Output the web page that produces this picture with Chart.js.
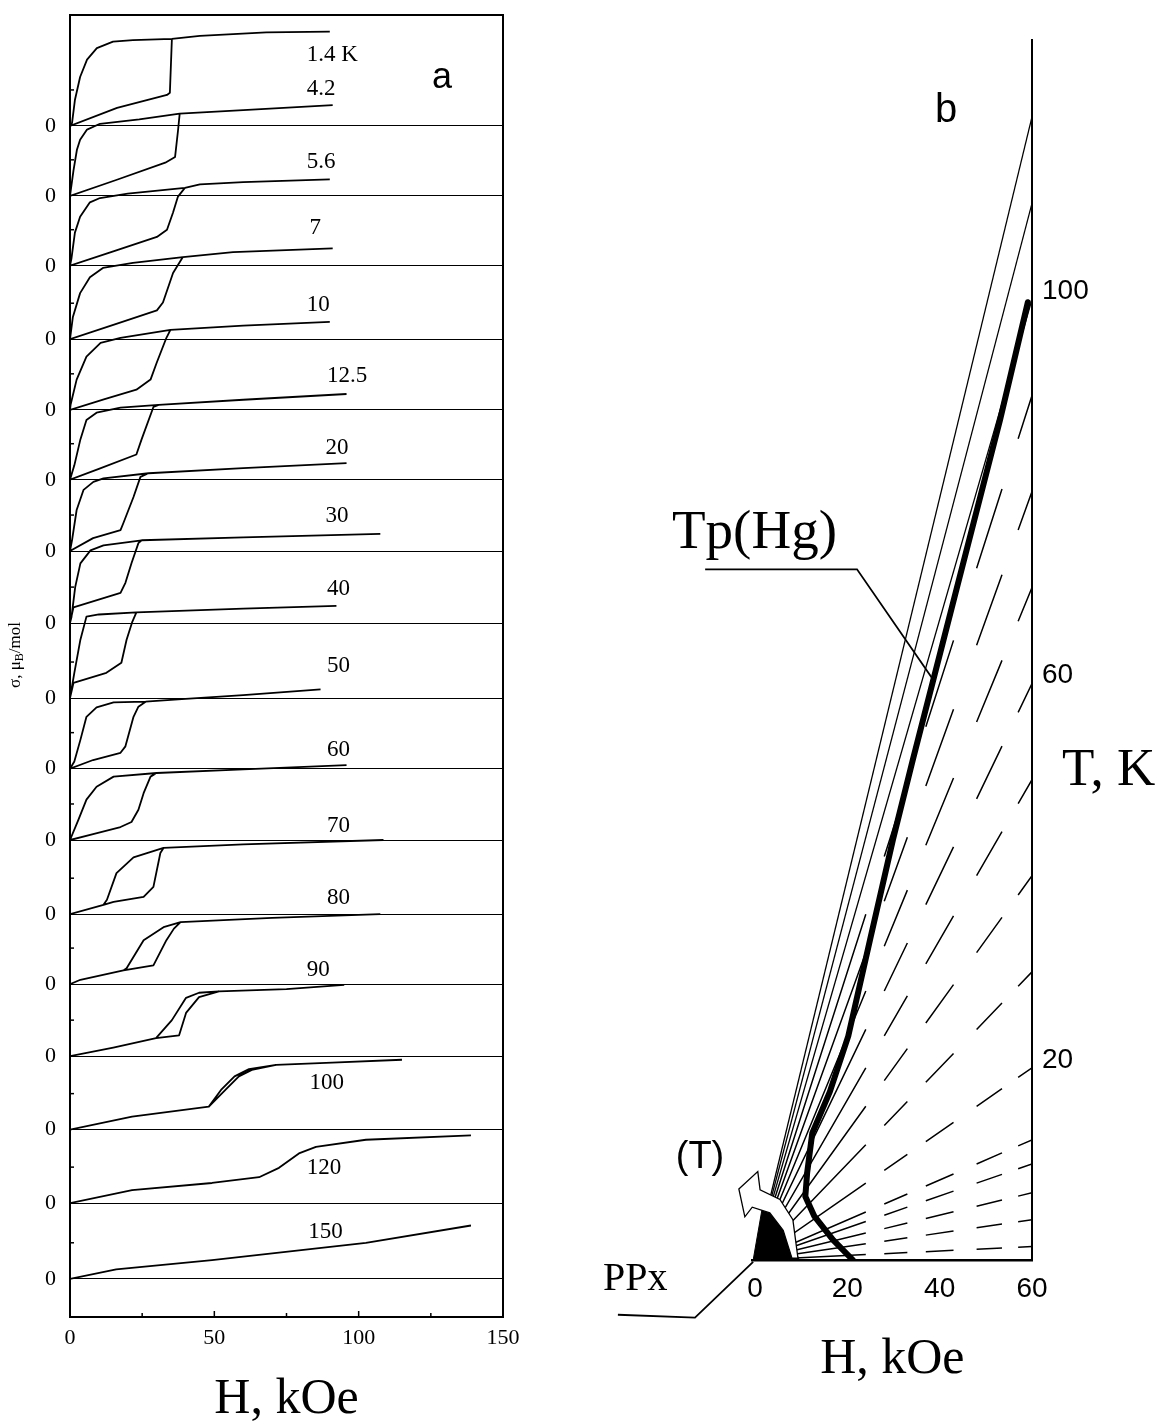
<!DOCTYPE html>
<html><head><meta charset="utf-8">
<script src="https://cdn.jsdelivr.net/npm/chart.js@4/dist/chart.umd.min.js"></script>
<style>
html,body{margin:0;padding:0;background:#fff;}
#wrap{position:relative;width:1166px;height:1427px;overflow:hidden;background:#fff;}
canvas{position:absolute;top:0;}
#ca{left:0;} #cb{left:560px;}
</style></head><body>
<div id="wrap"><canvas id="ca" width="560" height="1427"></canvas><canvas id="cb" width="606" height="1427"></canvas></div>
<script>
// ================= Panel a : sigma(H) loops, offset vertically =================
const temperaturesA = ['1.4 K','4.2','5.6','7','10','12.5','20','30','40','50','60','70','80','90','100','120','150'];
// vertical offset of each curve's zero line (sigma units)
const curveOffsets = [0, 0.97, 1.94, 2.96, 3.94, 4.91, 5.90, 6.90, 7.94, 8.92, 9.91, 10.94, 11.91, 12.91, 13.93, 14.95, 16.0];
// each loop: [H (kOe), sigma]
const loopT1_4  = [[90,1.31],[68,1.30],[45,1.25],[35.3,1.21],[21.8,1.19],[14.9,1.17],[9.3,1.08],[5.9,0.92],[3.5,0.68],[1.7,0.36],[0.7,0.04],[0,0],[16.3,0.25],[33.6,0.43],[34.6,0.46],[35.3,1.21]];
const loopT4_2  = [[91,1.26],[60,1.19],[38,1.14],[24,1.06],[10.4,1.0],[5.9,0.92],[3.5,0.78],[2.4,0.64],[1.2,0.35],[0,0],[16,0.22],[33,0.46],[36.4,0.54],[37.4,0.9],[38,1.14]];
const loopT5_6  = [[90,1.20],[60,1.16],[45,1.13],[39.8,1.08],[20,1.0],[10.4,0.94],[6.9,0.88],[3.5,0.68],[1.7,0.46],[0.5,0.1],[0,0],[15,0.2],[30.1,0.40],[33.6,0.50],[35.7,0.74],[37.4,0.96],[39.8,1.08]];
const loopT7    = [[91,1.26],[56.5,1.21],[39.1,1.14],[21.8,1.06],[11.4,0.99],[6.9,0.86],[3.5,0.64],[1.0,0.31],[0,0],[15,0.2],[30.1,0.40],[32.2,0.51],[35.7,0.92],[39.1,1.14]];
const loopT10   = [[90,1.22],[60,1.17],[34.8,1.11],[17.5,1.0],[10.6,0.93],[5.7,0.74],[2.3,0.42],[0.2,0.07],[0,0],[12,0.15],[23,0.28],[27.9,0.42],[30,0.65],[33.4,1.0],[34.8,1.11]];
const loopT12_5 = [[95.8,1.19],[60,1.11],[30.7,1.04],[17.5,1.0],[9.2,0.93],[5.7,0.83],[3.6,0.56],[1.5,0.2],[0,0],[10,0.15],[23,0.35],[24.8,0.56],[28.9,1.01],[30.7,1.04]];
const loopT20   = [[95.8,1.22],[60,1.15],[27.2,1.08],[11.6,1.01],[8.1,0.96],[4.7,0.85],[2.3,0.57],[0.7,0.15],[0,0],[8,0.18],[17.5,0.29],[18.5,0.39],[22,0.75],[24.4,1.03],[27.2,1.08]];
const loopT30   = [[107.5,1.24],[60,1.19],[24.8,1.15],[11.6,1.08],[7.1,1.01],[3.6,0.83],[1.8,0.5],[0.5,0.08],[0,0],[1.2,0.22],[17.5,0.42],[19.2,0.56],[21.3,0.83],[23.7,1.11],[24.8,1.15]];
const loopT40   = [[92.3,1.28],[60,1.24],[23,1.19],[10,1.16],[5.7,1.13],[3.6,0.81],[1.5,0.35],[0,0],[1.2,0.21],[12.6,0.35],[17.8,0.49],[19.6,0.81],[21.5,1.05],[23,1.19]];
const loopT50   = [[86.8,1.10],[60,1.02],[40,0.97],[26.2,0.93],[15.1,0.92],[9.2,0.85],[5.7,0.72],[3.6,0.40],[1.5,0.1],[0,0],[8,0.12],[17.5,0.22],[19.2,0.31],[22,0.72],[23.7,0.86],[26.2,0.93]];
const loopT60   = [[95.8,1.04],[60,0.98],[30,0.93],[15.1,0.88],[9.2,0.74],[5.7,0.56],[2.9,0.28],[0,0],[8,0.08],[17.5,0.18],[21.3,0.25],[23.7,0.42],[25.5,0.65],[27.9,0.88],[30,0.93]];
const loopT70   = [[108.6,1.03],[60,0.97],[32.4,0.92],[22,0.79],[16.1,0.57],[12.8,0.2],[11.6,0.13],[0,0],[11.6,0.13],[15.1,0.17],[25.5,0.24],[28.9,0.38],[31.3,0.85],[32.4,0.92]];
const loopT80   = [[107.5,0.97],[70,0.92],[38.3,0.86],[32.4,0.79],[25.5,0.61],[19.6,0.22],[18.5,0.19],[3.6,0.06],[0,0],[3.6,0.06],[18.5,0.19],[28.9,0.26],[33.4,0.61],[36,0.77],[38.3,0.86]];
const loopT90   = [[95,0.99],[75,0.93],[51.6,0.90],[44.7,0.88],[40.2,0.81],[35.3,0.50],[29.8,0.25],[15,0.12],[0,0],[15,0.12],[29.8,0.25],[37.8,0.29],[40.2,0.60],[44.7,0.82],[51.6,0.90]];
const loopT100  = [[115,0.97],[90.8,0.93],[71.4,0.90],[62,0.84],[57,0.74],[52.5,0.56],[48.1,0.32],[21.5,0.18],[0,0],[21.5,0.18],[48.1,0.32],[54,0.56],[58.5,0.74],[63,0.83],[71.4,0.90]];
const loopT120  = [[0,0],[21.5,0.18],[49.2,0.28],[65.5,0.36],[72.4,0.49],[79.3,0.69],[85.2,0.78],[102.5,0.88],[138.9,0.94]];
const loopT150  = [[0,0],[16,0.13],[49.2,0.26],[102.5,0.50],[138.9,0.74]];
const loopsA = [loopT1_4,loopT4_2,loopT5_6,loopT7,loopT10,loopT12_5,loopT20,loopT30,loopT40,loopT50,loopT60,loopT70,loopT80,loopT90,loopT100,loopT120,loopT150];
const xTicksA = [0, 50, 100, 150];
// text anchors of temperature labels: [H of left edge, sigma of centre]
const labelAnchorsA = [[82,0.99],[82,1.49],[82,1.44],[83,1.54],[82,1.46],[89,1.44],[88.5,1.43],[88.5,1.49],[89,1.51],[89,1.42],[89,1.25],[89,1.22],[89,1.19],[82,1.19],[83,0.65],[82,0.49],[82.5,0.65]];

// ================= Panel b : H-T diagram =================
const solidRayEndT  = [119, 110, 100];
const dashedRayEndT = [90, 80, 70, 60, 50, 40, 30, 20, 12.5, 10, 7, 4.2, 1.4];
const rayEndH = 60;
const tpHgLine = [[21.2,0],[16.9,2.1],[12.8,4.6],[10.9,6.6],[11.3,9.1],[12.4,13.2],[16.2,17.5],[20.2,23.3],[24.9,33.3],[29.9,43.8],[34.2,52.1],[43.8,70.1],[53.1,87.5],[59.1,99.7]];
const originWedge = [[-0.4,0],[2.0,6.6],[5.5,4.5],[9.6,0]];
const arrowOutline = [[8.0,0.2],[6.1,3.1],[3.2,4.9],[-0.6,5.5],[-2.2,4.5],[-3.5,7.4],[0.6,9.2],[1.1,7.3],[5.4,6.3],[8.2,4.2],[9.3,0.2],[8.0,0.2]];
const hTicksB = [0, 20, 40, 60];
const tTicksB = [20, 60, 100];
const tpLeader  = [[-10.8,71.9],[22.1,71.9],[38.6,60.4]];
const ppxLeader = [[-29.7,-5.7],[-13.0,-6.0],[-0.4,-0.2]];

// ================= styles =================
const serif = "'Liberation Serif','Times New Roman',serif";
const sans  = "'Liberation Sans',Arial,sans-serif";
const rayDashH = [24, 4, 5, 4, 6, 5, 5.5, 3.5, 3];

// ---------- chart a ----------
const frameA = {
  id: 'frameA',
  afterDraw(chart) {
    const {ctx, chartArea: a, scales: {x, y}} = chart;
    ctx.save();
    ctx.strokeStyle = '#000';
    ctx.lineWidth = 2;
    ctx.strokeRect(a.left, a.top, a.right - a.left, a.bottom - a.top);
    // inward ticks
    ctx.lineWidth = 1.5;
    [25, 50, 75, 100, 125].forEach(v => {
      const px = x.getPixelForValue(v), len = v % 50 === 0 ? 6 : 4;
      ctx.beginPath(); ctx.moveTo(px, a.bottom); ctx.lineTo(px, a.bottom - len); ctx.stroke();
    });
    curveOffsets.forEach(o => {
      const py = y.getPixelForValue(0.5 - o);
      ctx.beginPath(); ctx.moveTo(a.left, py); ctx.lineTo(a.left + 4, py); ctx.stroke();
    });
    // temperature labels
    ctx.fillStyle = '#000';
    ctx.font = '23px ' + serif;
    ctx.textAlign = 'left'; ctx.textBaseline = 'middle';
    labelAnchorsA.forEach(([h, s], i) => {
      ctx.fillText(temperaturesA[i], x.getPixelForValue(h), y.getPixelForValue(s - curveOffsets[i]));
    });
    // panel letter
    ctx.font = '36px ' + sans; ctx.textBaseline = 'alphabetic';
    ctx.fillText('a', 432, 88);
    // rotated y title with subscript
    ctx.translate(16, 655);
    ctx.rotate(-Math.PI / 2);
    const parts = [['σ, μ', '17px ' + serif, 0], ['B', '12px ' + serif, 4], ['/mol', '17px ' + serif, 0]];
    let total = 0;
    parts.forEach(p => { ctx.font = p[1]; p.push(ctx.measureText(p[0]).width); total += p[3]; });
    let cx = -total / 2;
    ctx.textBaseline = 'middle';
    parts.forEach(p => { ctx.font = p[1]; ctx.fillText(p[0], cx, p[2]); cx += p[3]; });
    ctx.restore();
  }
};

new Chart(document.getElementById('ca'), {
  type: 'line',
  data: {
    datasets: loopsA.map((loop, i) => ({
      label: temperaturesA[i],
      data: loop.map(([h, s]) => ({x: h, y: s - curveOffsets[i]})),
      borderColor: '#000', borderWidth: 1.8, pointRadius: 0, fill: false, tension: 0,
      borderJoinStyle: 'round'
    }))
  },
  options: {
    responsive: false, animation: false,
    layout: {padding: {left: 0, top: 15, right: 57, bottom: 0}},
    plugins: {legend: {display: false}, tooltip: {enabled: false}},
    scales: {
      x: {
        type: 'linear', min: 0, max: 150,
        afterBuildTicks(s) { s.ticks = xTicksA.map(v => ({value: v})); },
        ticks: {font: {family: serif, size: 22}, color: '#000', padding: 8, maxRotation: 0, autoSkip: false},
        grid: {display: false, drawTicks: false},
        border: {display: true, color: '#000', width: 2},
        title: {display: true, text: 'H, kOe', color: '#000', font: {family: serif, size: 50, lineHeight: 1}, padding: {top: 0, bottom: 2}},
        afterFit(s) { s.height = 110; }
      },
      y: {
        type: 'linear', min: -16.53, max: 1.54,
        afterBuildTicks(s) { s.ticks = curveOffsets.map(o => ({value: -o})); },
        ticks: {callback: () => '0', font: {family: serif, size: 22}, color: '#000', padding: 14, autoSkip: false},
        grid: {display: true, drawOnChartArea: true, drawTicks: false, color: '#000', lineWidth: 1},
        border: {display: true, color: '#000', width: 2},
        afterFit(s) { s.width = 70; s.paddingTop = 0; s.paddingBottom = 0; }
      }
    }
  },
  plugins: [frameA]
});

// ---------- chart b ----------
function rayDash(ctx) {
  const L = Math.hypot(ctx.p1.x - ctx.p0.x, ctx.p1.y - ctx.p0.y);
  const k = L / rayEndH;
  return rayDashH.map(v => v * k);
}
const annotB = {
  id: 'annotB',
  afterDraw(chart) {
    const {ctx, scales: {x, y}} = chart;
    const P = ([h, t]) => [x.getPixelForValue(h), y.getPixelForValue(t)];
    ctx.save();
    ctx.strokeStyle = '#000'; ctx.lineWidth = 1.8;
    [tpLeader, ppxLeader].forEach(pts => {
      ctx.beginPath();
      pts.forEach((p, i) => { const [px, py] = P(p); i ? ctx.lineTo(px, py) : ctx.moveTo(px, py); });
      ctx.stroke();
    });
    ctx.fillStyle = '#000'; ctx.textAlign = 'left'; ctx.textBaseline = 'alphabetic';
    ctx.font = '55px ' + serif; ctx.fillText('Tp(Hg)', 112, 548);
    ctx.font = '40px ' + serif; ctx.fillText('PPx', 43, 1290);
    ctx.font = '53px ' + serif; ctx.fillText('T, K', 502, 785);
    ctx.font = '40px ' + sans; ctx.fillText('b', 375, 122);
    ctx.font = '38px ' + sans; ctx.textAlign = 'center'; ctx.textBaseline = 'middle';
    ctx.fillText('(T)', 140, 1158);
    ctx.restore();
  }
};

const datasetsB = [
  {label: 'arrow', data: arrowOutline.map(([h, t]) => ({x: h, y: t})), borderColor: '#000', borderWidth: 1.3,
   backgroundColor: '#fff', fill: 'shape', pointRadius: 0, tension: 0, clip: false, order: 0},
  {label: 'Tp(Hg)', data: tpHgLine.map(([h, t]) => ({x: h, y: t})), borderColor: '#000', borderWidth: 6,
   pointRadius: 0, tension: 0, fill: false, borderJoinStyle: 'round', borderCapStyle: 'round', order: 1},
  {label: 'wedge', data: originWedge.map(([h, t]) => ({x: h, y: t})), borderColor: '#000', borderWidth: 1,
   backgroundColor: '#000', fill: 'origin', pointRadius: 0, tension: 0, order: 2},
  ...solidRayEndT.map(T => ({label: 'T=' + T, data: [{x: 0, y: 0}, {x: rayEndH, y: T}], borderColor: '#000',
   borderWidth: 1.3, pointRadius: 0, fill: false, order: 3})),
  ...dashedRayEndT.map(T => ({label: 'T=' + T, data: [{x: 0, y: 0}, {x: rayEndH, y: T}], borderColor: '#000',
   borderWidth: 1.5, pointRadius: 0, fill: false, order: 3, segment: {borderDash: rayDash}}))
];

new Chart(document.getElementById('cb'), {
  type: 'line',
  data: {datasets: datasetsB},
  options: {
    responsive: false, animation: false,
    layout: {padding: {left: 192.7, top: 40, right: 0, bottom: 0}},
    plugins: {legend: {display: false}, tooltip: {enabled: false}},
    scales: {
      x: {
        type: 'linear', min: -0.5, max: 60,
        afterBuildTicks(s) { s.ticks = hTicksB.map(v => ({value: v})); },
        ticks: {font: {family: sans, size: 28}, color: '#000', padding: 12, maxRotation: 0, autoSkip: false},
        grid: {display: false, drawTicks: false},
        border: {display: true, color: '#000', width: 2.5},
        title: {display: true, text: 'H, kOe', color: '#000', font: {family: serif, size: 50, lineHeight: 1}, padding: {top: 0, bottom: 42}},
        afterFit(s) { s.height = 167; }
      },
      y: {
        type: 'linear', position: 'right', min: 0, max: 127,
        afterBuildTicks(s) { s.ticks = tTicksB.map(v => ({value: v})); },
        ticks: {font: {family: sans, size: 28}, color: '#000', padding: 10, labelOffset: -8, autoSkip: false},
        grid: {display: false, drawTicks: false},
        border: {display: true, color: '#000', width: 2},
        afterFit(s) { s.width = 134; s.paddingTop = 0; s.paddingBottom = 0; }
      }
    }
  },
  plugins: [annotB]
});
</script>
</body></html>
